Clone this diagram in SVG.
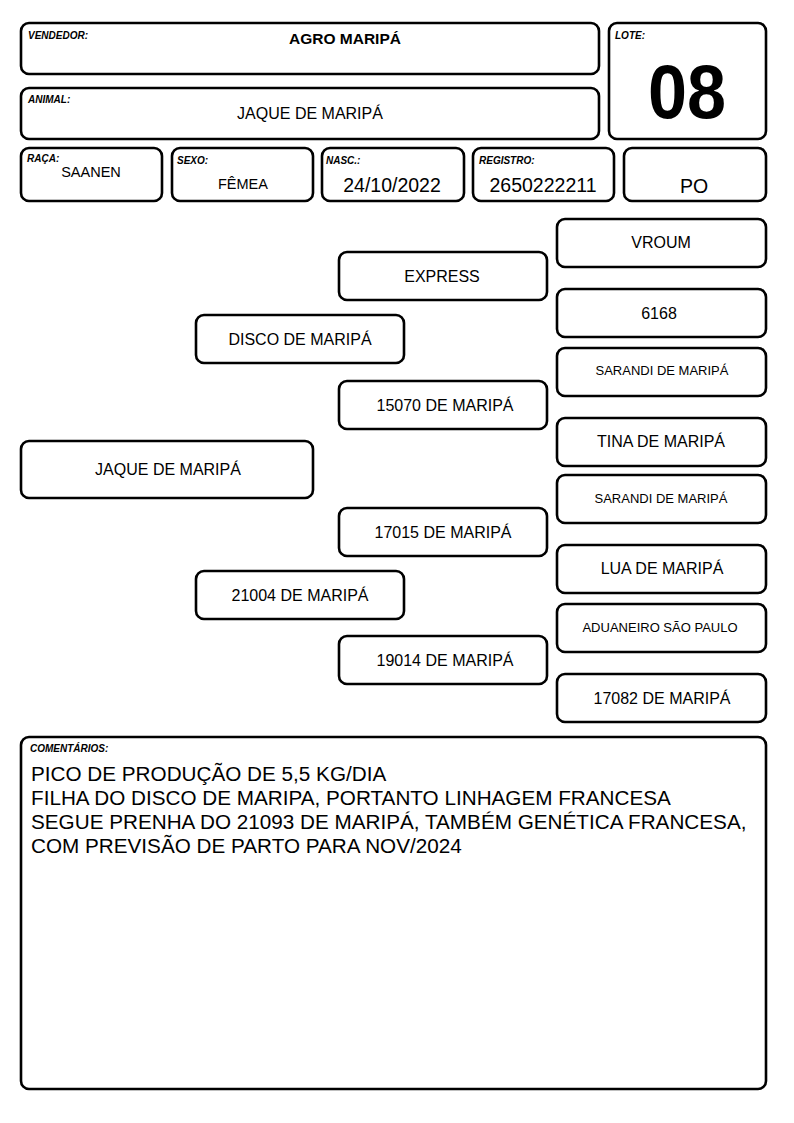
<svg xmlns="http://www.w3.org/2000/svg" width="794" height="1123" viewBox="0 0 794 1123">
<style>
.b{fill:#fff;stroke:#000;stroke-width:2.6}
.l{font-family:"Liberation Sans",Arial,sans-serif;font-size:10px;font-weight:bold;font-style:italic}
.v{font-family:"Liberation Sans",Arial,sans-serif;font-size:16px;text-anchor:middle}
.s{font-family:"Liberation Sans",Arial,sans-serif;font-size:13px;text-anchor:middle}
.c{font-family:"Liberation Sans",Arial,sans-serif;font-size:20.7px}
</style>
<rect width="794" height="1123" fill="#fff"/>
<g id="vendedor"><rect class="b" x="21" y="23" width="578" height="51" rx="8"/><text class="l" x="28" y="39">VENDEDOR:</text><text class="v" x="345" y="44" style="font-weight:bold;font-size:15.5px">AGRO MARIPÁ</text></g>
<g id="animal"><rect class="b" x="21" y="88" width="578" height="51" rx="8"/><text class="l" x="28" y="103">ANIMAL:</text><text class="v" x="310" y="119">JAQUE DE MARIPÁ</text></g>
<g id="lote"><rect class="b" x="609" y="23" width="157" height="116" rx="8"/><text class="l" x="615" y="39">LOTE:</text><text x="687" y="118" text-anchor="middle" style="font-family:'Liberation Sans',Arial,sans-serif;font-weight:bold;font-size:76px" textLength="78" lengthAdjust="spacingAndGlyphs">08</text></g>
<g id="raca"><rect class="b" x="21" y="148" width="141" height="53" rx="8"/><text class="l" x="27" y="162">RAÇA:</text><text class="v" x="91" y="177" style="font-size:14.5px">SAANEN</text></g>
<g id="sexo"><rect class="b" x="172" y="148" width="141" height="53" rx="8"/><text class="l" x="177" y="164">SEXO:</text><text class="v" x="243" y="189" style="font-size:14.5px">FÊMEA</text></g>
<g id="nasc"><rect class="b" x="322" y="148" width="142" height="53" rx="8"/><text class="l" x="326" y="164">NASC.:</text><text class="v" x="392" y="192" style="font-size:19.5px">24/10/2022</text></g>
<g id="registro"><rect class="b" x="473" y="148" width="141" height="53" rx="8"/><text class="l" x="479" y="164">REGISTRO:</text><text class="v" x="543" y="192" style="font-size:19.5px">2650222211</text></g>
<g id="po"><rect class="b" x="624" y="148" width="142" height="53" rx="8"/><text class="v" x="694" y="193" style="font-size:19.5px">PO</text></g>
<g id="connectors"></g>
<g id="p-jaque"><rect class="b" x="21" y="441" width="292" height="57" rx="8"/><text class="v" x="168" y="475">JAQUE DE MARIPÁ</text></g>
<g id="p-disco"><rect class="b" x="196" y="315" width="208" height="48" rx="8"/><text class="v" x="300" y="345">DISCO DE MARIPÁ</text></g>
<g id="p-21004"><rect class="b" x="196" y="571" width="208" height="48" rx="8"/><text class="v" x="300" y="601">21004 DE MARIPÁ</text></g>
<g id="p-express"><rect class="b" x="339" y="252" width="208" height="48" rx="8"/><text class="v" x="442" y="282">EXPRESS</text></g>
<g id="p-15070"><rect class="b" x="339" y="381" width="208" height="48" rx="8"/><text class="v" x="445" y="411">15070 DE MARIPÁ</text></g>
<g id="p-17015"><rect class="b" x="339" y="508" width="208" height="48" rx="8"/><text class="v" x="443" y="538">17015 DE MARIPÁ</text></g>
<g id="p-19014"><rect class="b" x="339" y="636" width="208" height="48" rx="8"/><text class="v" x="445" y="666">19014 DE MARIPÁ</text></g>
<g id="p-vroum"><rect class="b" x="557" y="219" width="209" height="48" rx="8"/><text class="v" x="661" y="248">VROUM</text></g>
<g id="p-6168"><rect class="b" x="557" y="289" width="209" height="48" rx="8"/><text class="v" x="659" y="319">6168</text></g>
<g id="p-sarandi1"><rect class="b" x="557" y="348" width="209" height="48" rx="8"/><text class="s" x="662" y="375">SARANDI DE MARIPÁ</text></g>
<g id="p-tina"><rect class="b" x="557" y="418" width="209" height="48" rx="8"/><text class="v" x="661" y="447">TINA DE MARIPÁ</text></g>
<g id="p-sarandi2"><rect class="b" x="557" y="475" width="209" height="48" rx="8"/><text class="s" x="661" y="503">SARANDI DE MARIPÁ</text></g>
<g id="p-lua"><rect class="b" x="557" y="545" width="209" height="48" rx="8"/><text class="v" x="662" y="574">LUA DE MARIPÁ</text></g>
<g id="p-aduaneiro"><rect class="b" x="557" y="604" width="209" height="48" rx="8"/><text class="s" x="660" y="632">ADUANEIRO SÃO PAULO</text></g>
<g id="p-17082"><rect class="b" x="557" y="674" width="209" height="48" rx="8"/><text class="v" x="662" y="704">17082 DE MARIPÁ</text></g>
<g id="comentarios"><rect class="b" x="21" y="737" width="745" height="352" rx="8"/><text class="l" x="30" y="752">COMENTÁRIOS:</text>
<text class="c" x="31" y="781">PICO DE PRODUÇÃO DE 5,5 KG/DIA</text>
<text class="c" x="31" y="805">FILHA DO DISCO DE MARIPA, PORTANTO LINHAGEM FRANCESA</text>
<text class="c" x="31" y="829">SEGUE PRENHA DO 21093 DE MARIPÁ, TAMBÉM GENÉTICA FRANCESA,</text>
<text class="c" x="31" y="853">COM PREVISÃO DE PARTO PARA NOV/2024</text></g>
</svg>
